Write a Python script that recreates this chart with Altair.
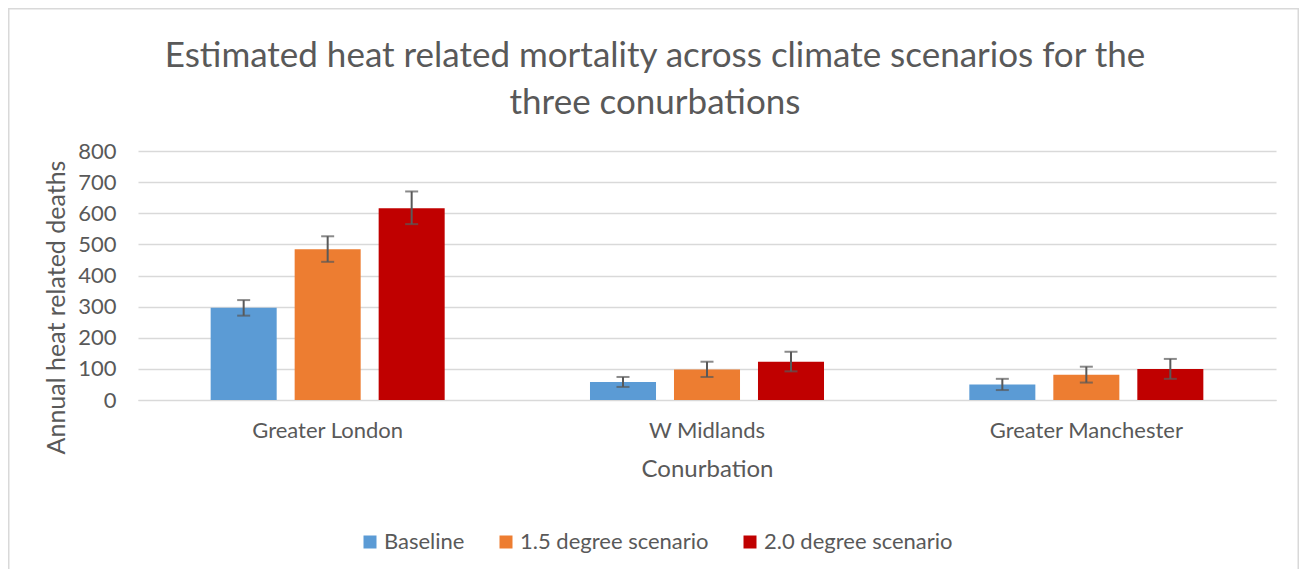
import altair as alt
import pandas as pd

regions = ["Greater London", "W Midlands", "Greater Manchester"]
scenarios = ["Baseline", "1.5 degree scenario", "2.0 degree scenario"]
colors = ["#5B9BD5", "#ED7D31", "#C00000"]

baseline = [296, 58, 50]
baseline_lo = [271, 42, 32]
baseline_hi = [321, 74, 68]

deg15 = [484, 98, 81]
deg15_lo = [444, 74, 56]
deg15_hi = [526, 123, 107]

deg20 = [616, 123, 100]
deg20_lo = [565, 92, 68]
deg20_hi = [670, 155, 132]

y_ticks = [0, 100, 200, 300, 400, 500, 600, 700, 800]

rows = []
for s, vals, lo, hi in zip(
    scenarios,
    [baseline, deg15, deg20],
    [baseline_lo, deg15_lo, deg20_lo],
    [baseline_hi, deg15_hi, deg20_hi],
):
    for r, v, l, h in zip(regions, vals, lo, hi):
        rows.append({"region": r, "scenario": s, "value": v, "lo": l, "hi": h})
df = pd.DataFrame(rows)

FONT = "Lato"
GREY = "#595959"

x_axis = alt.Axis(
    title="Conurbation",
    labelAngle=0,
    ticks=False,
    domainColor="#D9D9D9",
    labelPadding=20,
    titlePadding=16,
    labelFontSize=22,
    titleFontSize=24,
    labelColor=GREY,
    titleColor=GREY,
    labelFont=FONT,
    titleFont=FONT,
    titleFontWeight="normal",
    labelLimit=0,
)
y_axis = alt.Axis(
    title="Annual heat related deaths",
    values=y_ticks,
    tickCount=20,
    ticks=False,
    domain=False,
    gridColor="#D9D9D9",
    gridWidth=1.3,
    labelPadding=22,
    labelFontSize=22,
    titleFontSize=25,
    labelColor=GREY,
    titleColor=GREY,
    labelFont=FONT,
    titleFont=FONT,
    titleFontWeight="normal",
    labelOverlap=False,
    titleX=-82,
    titleY=156,
    titleAlign="center",
    titleBaseline="middle",
)
y_scale = alt.Scale(domain=[0, 800], nice=False)
x_scale = alt.Scale(paddingInner=0, paddingOuter=0)
xo_scale = alt.Scale(paddingInner=0.214, paddingOuter=0.865)


def xenc():
    return alt.X("region:N", sort=regions, scale=x_scale, axis=x_axis)


def xoenc():
    return alt.XOffset("scenario:N", sort=scenarios, scale=xo_scale)


bars = alt.Chart(df).mark_bar().encode(
    x=xenc(),
    xOffset=xoenc(),
    y=alt.Y("value:Q", scale=y_scale, axis=y_axis),
    color=alt.Color(
        "scenario:N",
        sort=scenarios,
        scale=alt.Scale(domain=scenarios, range=colors),
        legend=alt.Legend(
            title=None,
            orient="none",
            direction="horizontal",
            legendX=221,
            legendY=380,
            symbolType="square",
            symbolSize=169,
            symbolStrokeWidth=0,
            labelFontSize=22,
            labelFont=FONT,
            labelColor=GREY,
            labelOffset=3,
            labelLimit=0,
            columnPadding=30,
        ),
    ),
)

err = alt.Chart(df).mark_rule(color=GREY, strokeWidth=2).encode(
    x=xenc(),
    xOffset=xoenc(),
    y=alt.Y("lo:Q", scale=y_scale, axis=y_axis),
    y2="hi:Q",
)
cap_hi = alt.Chart(df).mark_tick(color=GREY, thickness=2, size=13, orient="horizontal").encode(
    x=xenc(),
    xOffset=xoenc(),
    y=alt.Y("hi:Q", scale=y_scale, axis=y_axis),
)
cap_lo = alt.Chart(df).mark_tick(color=GREY, thickness=2, size=13, orient="horizontal").encode(
    x=xenc(),
    xOffset=xoenc(),
    y=alt.Y("lo:Q", scale=y_scale, axis=y_axis),
)

border = alt.Chart(pd.DataFrame({"k": [0]})).mark_rect(
    fill=None, stroke="#D9D9D9", strokeWidth=1.5
).encode(
    x=alt.value(-129.25), x2=alt.value(1160.25), y=alt.value(-142.25), y2=alt.value(420)
)

chart = (
    alt.layer(border, bars, err, cap_hi, cap_lo)
    .properties(
        width=1138,
        height=249,
        padding={"left": 130, "top": 143, "right": 23, "bottom": 169},
        autosize=alt.AutoSizeParams(type="none"),
        title=alt.TitleParams(
            text=[
                "Estimated heat related mortality across climate scenarios for the",
                "three conurbations",
            ],
            font=FONT,
            fontSize=35,
            fontWeight="normal",
            color=GREY,
            lineHeight=47,
            anchor="middle",
            baseline="alphabetic",
            frame="group",
            dx=-52,
            offset=0,
            dy=141,
        ),
    )
    .configure_view(stroke=None)
)

chart.save("out.html", embed_options={"renderer": "svg", "actions": False})
